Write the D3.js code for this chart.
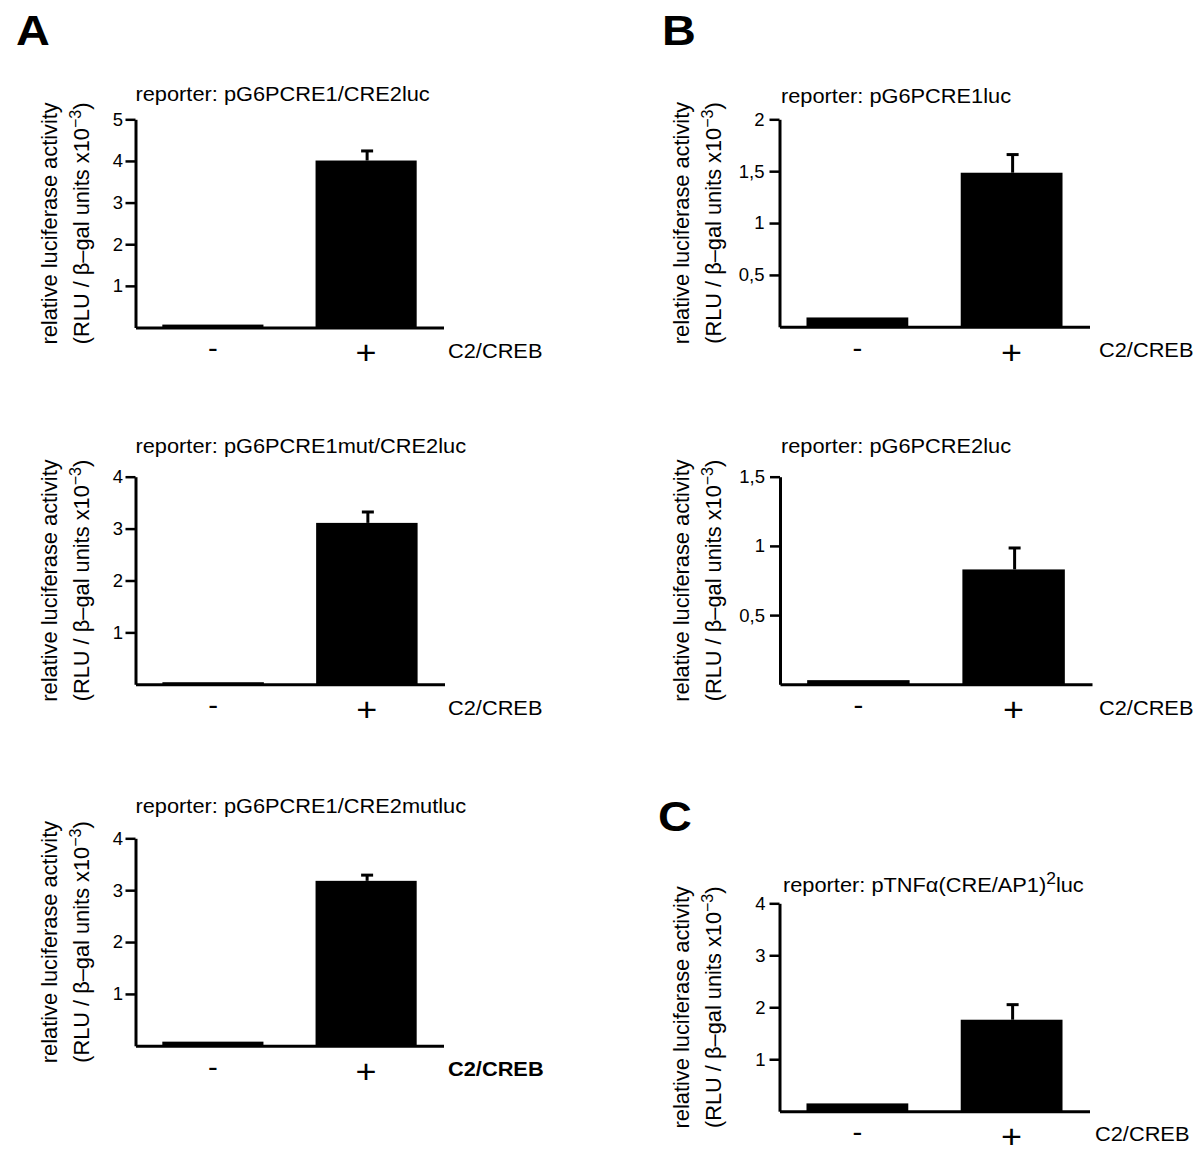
<!DOCTYPE html>
<html>
<head>
<meta charset="utf-8">
<script src="https://cdn.jsdelivr.net/npm/d3@7"></script>
<style>
  html, body { margin: 0; padding: 0; background: #fff; }
  svg { display: block; font-family: "Liberation Sans", Arial, Helvetica, sans-serif; }
</style>
</head>
<body>
<svg id="chart" width="1200" height="1173"></svg>
<script>
// ---------------- data ----------------
const categories = ["-", "+"];
const panelLetters = ["A", "B", "C"];
const reporterNames = [
  "pG6PCRE1/CRE2luc",
  "pG6PCRE1mut/CRE2luc",
  "pG6PCRE1/CRE2mutluc",
  "pG6PCRE1luc",
  "pG6PCRE2luc",
  "pTNFα(CRE/AP1)|2|luc"
];
const barValues = [
  [0.07, 4.01],
  [0.04, 3.11],
  [0.08, 3.18],
  [0.09, 1.485],
  [0.03, 0.83],
  [0.15, 1.76]
];
const errValues = [
  [0, 0.23],
  [0, 0.21],
  [0, 0.11],
  [0, 0.175],
  [0, 0.155],
  [0, 0.29]
];
const yMax = [5, 4, 4, 2, 1.5, 4];
const tickValues = [
  [1, 2, 3, 4, 5],
  [1, 2, 3, 4],
  [1, 2, 3, 4],
  [0.5, 1, 1.5, 2],
  [0.5, 1, 1.5],
  [1, 2, 3, 4]
];
const tickLabels = [
  ["1", "2", "3", "4", "5"],
  ["1", "2", "3", "4"],
  ["1", "2", "3", "4"],
  ["0,5", "1", "1,5", "2"],
  ["0,5", "1", "1,5"],
  ["1", "2", "3", "4"]
];
const xAxisLabel = "C2/CREB";
const yLabelLine1 = "relative luciferase activity";
const yLabelLine2 = ["(RLU / β–gal units x10", "−3", ")"];

// ---------------- layout ----------------
const SX = 1.09; // horizontal stretch of the original figure's lettering
const layout = [
  {x0: 135.5, len: 308, yTop: 119.3, y0: 327.5, pad: 2.5, titleX: 135.5, titleY: 101, lab1X: 57, lab2X: 89, xLabX: 448, xLabY: 358, bold: false},
  {x0: 135.5, len: 309, yTop: 476.7, y0: 684.3, pad: 2.5, titleX: 135.5, titleY: 453, lab1X: 57, lab2X: 89, xLabX: 448, xLabY: 715, bold: false},
  {x0: 135.5, len: 308, yTop: 838.3, y0: 1045.8, pad: 2.5, titleX: 135.5, titleY: 813, lab1X: 57, lab2X: 89, xLabX: 448, xLabY: 1076, bold: true},
  {x0: 779.5, len: 310, yTop: 119.3, y0: 326.8, pad: 5, titleX: 781, titleY: 103, lab1X: 689, lab2X: 721, xLabX: 1099, xLabY: 357, bold: false},
  {x0: 780, len: 312, yTop: 476.7, y0: 684.3, pad: 5, titleX: 781, titleY: 453, lab1X: 689, lab2X: 721, xLabX: 1099, xLabY: 715, bold: false},
  {x0: 779.5, len: 310, yTop: 903.3, y0: 1111.2, pad: 4, titleX: 783, titleY: 892, lab1X: 689, lab2X: 721, xLabX: 1095, xLabY: 1141, bold: false}
];
const letterPos = [{x: 16, y: 45}, {x: 662, y: 45}, {x: 658, y: 831}];
const catStyle = {"-": {size: 27, dy: 30}, "+": {size: 33, dy: 37}};

const svg = d3.select("#chart");
const stretch = (x, y) => `translate(${x},${y}) scale(${SX},1)`;

// panel letters
svg.selectAll("text.letter").data(panelLetters).join("text")
  .attr("class", "letter")
  .attr("transform", (d, i) => stretch(letterPos[i].x, letterPos[i].y))
  .attr("font-size", 43).attr("font-weight", "bold").attr("fill", "#000")
  .text(d => d);

layout.forEach((L, p) => {
  const g = svg.append("g");
  const x = d3.scaleBand().domain(categories).range([L.x0, L.x0 + L.len])
    .paddingInner(0.34).paddingOuter(0.175);
  const y = d3.scaleLinear().domain([0, yMax[p]]).range([L.y0, L.yTop]);

  // bars
  g.selectAll("rect.bar").data(categories).join("rect")
    .attr("x", d => x(d))
    .attr("width", x.bandwidth())
    .attr("y", (d, i) => y(barValues[p][i]))
    .attr("height", (d, i) => y(0) - y(barValues[p][i]))
    .attr("fill", "#000");

  // error bars
  const errData = categories.map((c, i) => ({c, v: barValues[p][i], e: errValues[p][i]})).filter(d => d.e > 0);
  errData.forEach(d => {
    const cx = x(d.c) + x.bandwidth() / 2 + 1;
    g.append("line").attr("x1", cx).attr("x2", cx)
      .attr("y1", y(d.v)).attr("y2", y(d.v + d.e))
      .attr("stroke", "#000").attr("stroke-width", 3);
    g.append("line").attr("x1", cx - 6).attr("x2", cx + 6)
      .attr("y1", y(d.v + d.e)).attr("y2", y(d.v + d.e))
      .attr("stroke", "#000").attr("stroke-width", 3);
  });

  // y axis
  const ya = g.append("g").attr("transform", `translate(${L.x0},0)`)
    .call(d3.axisLeft(y).tickValues(tickValues[p])
      .tickFormat((d, i) => tickLabels[p][i]).tickSize(10).tickSizeOuter(0).tickPadding(L.pad));
  ya.attr("font-size", 18.5).attr("font-family", null);
  ya.select(".domain").attr("stroke-width", 3);
  ya.selectAll(".tick line").attr("stroke-width", 2.5);
  ya.selectAll(".tick text").attr("fill", "#000");

  // x axis
  const xa = g.append("g").attr("transform", `translate(0,${L.y0})`)
    .call(d3.axisBottom(x).tickSize(0).tickSizeOuter(0));
  xa.attr("font-family", null);
  xa.select(".domain").attr("stroke-width", 3);
  xa.selectAll(".tick text")
    .attr("font-size", d => catStyle[d].size)
    .attr("y", d => catStyle[d].dy).attr("dy", 0)
    .attr("transform", `scale(${SX},1)`)
    .attr("fill", "#000");

  // x-axis label
  g.append("text").attr("transform", stretch(L.xLabX, L.xLabY))
    .attr("font-size", 20).attr("font-weight", L.bold ? "bold" : "normal")
    .text(xAxisLabel);

  // title
  const parts = reporterNames[p].split("|");
  const t = g.append("text").attr("transform", stretch(L.titleX, L.titleY)).attr("font-size", 20);
  t.append("tspan").text("reporter: " + parts[0]);
  if (parts.length > 1) {
    t.append("tspan").attr("dy", -8).attr("font-size", 16).text(parts[1]);
    t.append("tspan").attr("dy", 8).text(parts[2]);
  }

  // y label
  const yc = (L.yTop + L.y0) / 2;
  g.append("text").attr("transform", `translate(${L.lab1X},${yc}) rotate(-90)`)
    .attr("text-anchor", "middle").attr("font-size", 21.8).text(yLabelLine1);
  const t2 = g.append("text").attr("transform", `translate(${L.lab2X},${yc}) rotate(-90)`)
    .attr("text-anchor", "middle").attr("font-size", 21.8);
  t2.append("tspan").text(yLabelLine2[0]);
  t2.append("tspan").attr("dy", -8).attr("font-size", 16).text(yLabelLine2[1]);
  t2.append("tspan").attr("dy", 8).text(yLabelLine2[2]);
});
</script>
</body>
</html>
